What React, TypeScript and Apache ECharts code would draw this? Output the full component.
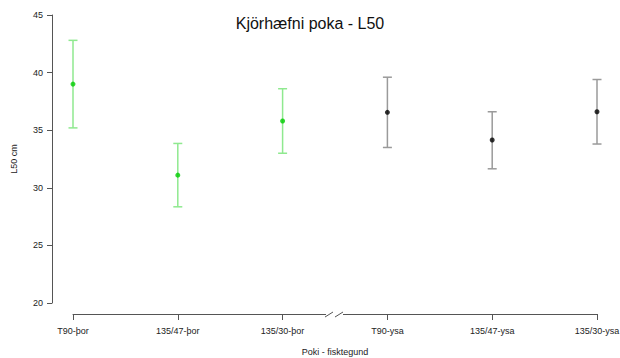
import React, { useEffect, useRef } from 'react';
import * as echarts from 'echarts';

const categories = ['T90-þor', '135/47-þor', '135/30-þor', 'T90-ysa', '135/47-ysa', '135/30-ysa'];
const species = ['þor', 'þor', 'þor', 'ysa', 'ysa', 'ysa'];
const l50 = [39.0, 31.1, 35.8, 36.55, 34.15, 36.6];
const lower = [35.2, 28.35, 33.0, 33.5, 31.65, 33.8];
const upper = [42.8, 33.85, 38.6, 39.6, 36.6, 39.4];

const barColor: Record<string, string> = { 'þor': '#8fe98f', 'ysa': '#9a9a9a' };
const pointColor: Record<string, string> = { 'þor': '#00cc00', 'ysa': '#000000' };

const FONT = 'Liberation Sans, Arial, sans-serif';
const AXIS = '#555555';

export default function App() {
  const ref = useRef<HTMLDivElement>(null);
  useEffect(() => {
    document.body.style.margin = '0';
    if (!ref.current) return;
    const chart = echarts.init(ref.current, undefined, { renderer: 'svg' });
    chart.setOption({
      animation: false,
      backgroundColor: '#ffffff',
      textStyle: { fontFamily: FONT },
      title: {
        text: 'Kjörhæfni poka - L50',
        left: 'center',
        top: 15,
        padding: 0,
        textStyle: { fontFamily: FONT, fontSize: 16, fontWeight: 'normal', color: '#111' },
      },
      grid: { left: 73, right: 23, top: 15, bottom: 55, containLabel: false, outerBoundsMode: 'none' },
      xAxis: {
        type: 'category',
        data: categories,
        boundaryGap: false,
        offset: 11,
        name: 'Poki - fisktegund',
        nameLocation: 'middle',
        nameGap: 33,
        nameTextStyle: { fontFamily: FONT, fontSize: 9, color: '#222' },
        axisLine: { show: true, lineStyle: { color: AXIS, width: 1 } },
        axisTick: { show: true, length: 6, alignWithLabel: true, lineStyle: { color: AXIS } },
        axisLabel: { fontFamily: FONT, fontSize: 9, color: '#222', margin: 12, interval: 0 },
        splitLine: { show: false },
      },
      yAxis: {
        type: 'value',
        min: 20,
        max: 45,
        interval: 5,
        offset: 21,
        name: 'L50 cm',
        nameLocation: 'middle',
        nameRotate: 90,
        nameGap: 34,
        nameTextStyle: { fontFamily: FONT, fontSize: 9, color: '#222' },
        axisLine: { show: true, lineStyle: { color: AXIS, width: 1 } },
        axisTick: { show: true, length: 5, lineStyle: { color: AXIS } },
        axisLabel: { fontFamily: FONT, fontSize: 9, color: '#222', margin: 9 },
        splitLine: { show: false },
      },
      series: [
        {
          type: 'custom',
          data: categories.map((_, i) => [i, lower[i], upper[i]]),
          renderItem: (params: any, api: any) => {
            const i = api.value(0);
            const lo = api.coord([i, api.value(1)]);
            const hi = api.coord([i, api.value(2)]);
            const c = barColor[species[params.dataIndex]];
            const hw = 4.5;
            const style = { stroke: c, lineWidth: 1.5 };
            return {
              type: 'group',
              children: [
                { type: 'line', shape: { x1: lo[0], y1: lo[1], x2: hi[0], y2: hi[1] }, style },
                { type: 'line', shape: { x1: lo[0] - hw, y1: lo[1], x2: lo[0] + hw, y2: lo[1] }, style },
                { type: 'line', shape: { x1: hi[0] - hw, y1: hi[1], x2: hi[0] + hw, y2: hi[1] }, style },
              ],
            };
          },
          z: 2,
        },
        {
          type: 'scatter',
          data: categories.map((_, i) => [i, l50[i]]),
          symbol: 'circle',
          symbolSize: 5,
          itemStyle: { color: (p: any) => pointColor[species[p.dataIndex]] },
          z: 3,
        },
      ],
    });

    const x3 = chart.convertToPixel({ xAxisIndex: 0 }, 2) as number;
    const x4 = chart.convertToPixel({ xAxisIndex: 0 }, 3) as number;
    const yb = (chart.convertToPixel({ yAxisIndex: 0 }, 20) as number) + 11;
    const mid = (x3 + x4) / 2;
    chart.setOption({
      graphic: [
        { type: 'rect', shape: { x: mid - 9, y: yb - 3, width: 17, height: 6 }, style: { fill: '#ffffff' }, z: 100 },
        { type: 'line', shape: { x1: mid - 10, y1: yb + 3, x2: mid - 2, y2: yb - 2 }, style: { stroke: AXIS, lineWidth: 1 }, z: 101 },
        { type: 'line', shape: { x1: mid + 0, y1: yb + 3, x2: mid + 8, y2: yb - 2 }, style: { stroke: AXIS, lineWidth: 1 }, z: 101 },
      ],
    });
    return () => chart.dispose();
  }, []);
  return <div ref={ref} style={{ width: 620, height: 358 }} />;
}
